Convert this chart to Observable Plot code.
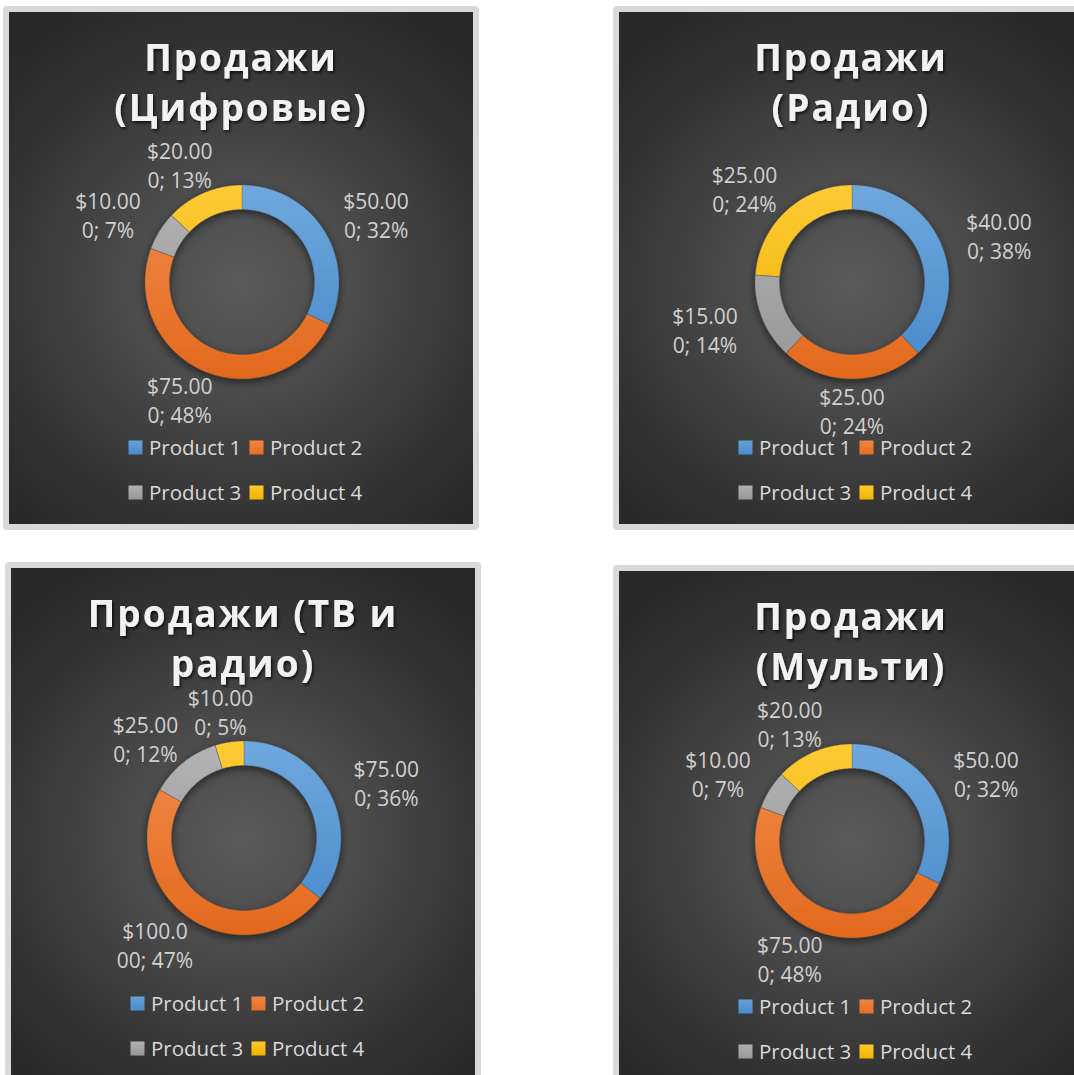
<!DOCTYPE html>
<html>
<head>
<meta charset="utf-8">
<script src="https://cdn.jsdelivr.net/npm/d3@7"></script>
<script src="https://cdn.jsdelivr.net/npm/@observablehq/plot@0.6"></script>
<style>
html, body { margin: 0; padding: 0; background: #ffffff; width: 1074px; height: 1075px; overflow: hidden; }
#root { position: relative; width: 1074px; height: 1075px; overflow: hidden; }
.panel { position: absolute; border: 6px solid #d9d9d9; border-radius: 4px; width: 464px; height: 512px; overflow: hidden; box-sizing: content-box; }
.panel svg { display: block; }
</style>
</head>
<body>
<div id="root"></div>
<script>
// ---------------- data ----------------
const products = ["Product 1", "Product 2", "Product 3", "Product 4"];

const titles = ["Продажи\n(Цифровые)", "Продажи\n(Радио)", "Продажи (ТВ и\nрадио)", "Продажи\n(Мульти)"];

const digitalValues = [50, 75, 10, 20];
const digitalPercents = [32, 48, 7, 13];

const radioValues = [40, 25, 15, 25];
const radioPercents = [38, 24, 14, 24];

const tvRadioValues = [75, 100, 25, 10];
const tvRadioPercents = [36, 47, 12, 5];

const multiValues = [50, 75, 10, 20];
const multiPercents = [32, 48, 7, 13];

// ---------------- styles ----------------
const lightColors = ["#6FA8DD", "#F28B4B", "#B3B3B3", "#FFCB35"];
const darkColors = ["#4688CA", "#E2691D", "#969696", "#EAB000"];
const swatchTop = ["#64A2DB", "#F2843F", "#B0B0B0", "#FFC826"];
const swatchBottom = ["#4B8BCC", "#E56E24", "#989898", "#F0B400"];

// ---------------- layout ----------------
const W = 464, H = 512;
const CX = 232.5, CY = 269.5;
const R_OUT = 97, R_IN = 72.5;
const LABEL_RX = 158, LABEL_RY = 128;
const panelBoxes = [
  {left: 3, top: 6},
  {left: 613, top: 6},
  {left: 5, top: 562},
  {left: 613, top: 565}
];
const panels = [
  {title: titles[0], values: digitalValues, percents: digitalPercents},
  {title: titles[1], values: radioValues, percents: radioPercents},
  {title: titles[2], values: tvRadioValues, percents: tvRadioPercents},
  {title: titles[3], values: multiValues, percents: multiPercents}
];

function makeSlices(values) {
  const total = d3.sum(values);
  let acc = 0;
  return values.map((v, i) => {
    const a0 = acc / total * 2 * Math.PI;
    acc += v;
    const a1 = acc / total * 2 * Math.PI;
    return {i, v, a0, a1, mid: (a0 + a1) / 2};
  });
}

function slicePoints(s) {
  const n = Math.max(2, Math.ceil((s.a1 - s.a0) / (Math.PI / 360)));
  const pts = [];
  for (let k = 0; k <= n; k++) {
    const a = s.a0 + (s.a1 - s.a0) * k / n;
    pts.push({x: R_OUT * Math.sin(a), y: -R_OUT * Math.cos(a)});
  }
  for (let k = n; k >= 0; k--) {
    const a = s.a0 + (s.a1 - s.a0) * k / n;
    pts.push({x: R_IN * Math.sin(a), y: -R_IN * Math.cos(a)});
  }
  return pts;
}

const root = document.getElementById("root");

panels.forEach((p, pi) => {
  const slices = makeSlices(p.values);

  const labels = slices.map(s => {
    const full = `$${s.v.toFixed(3)}; ${p.percents[s.i]}%`;
    const lines = [full.slice(0, 6), full.slice(6)];
    return {
      text: lines.join("\n"),
      x: Math.sin(s.mid) * LABEL_RX,
      y: -Math.cos(s.mid) * LABEL_RY
    };
  });

  const legend = products.map((name, i) => {
    const col = i % 2, row = Math.floor(i / 2);
    const x1 = -113 + col * 121;
    const yc = 166 + row * 45;
    return {name, i, x1, x2: x1 + 14, y1: yc - 7, y2: yc + 7, tx: x1 + 20, ty: yc};
  });

  const sliceMarks = slices.map(s =>
    Plot.line(slicePoints(s), {
      x: "x", y: "y",
      fill: `url(#grad-${pi}-${s.i})`,
      stroke: "#4a4a4a", strokeWidth: 0.6, strokeOpacity: 0.6,
      curve: "linear-closed"
    })
  );

  const svg = Plot.plot({
    width: W, height: H,
    margin: 0,
    x: {domain: [-CX, W - CX], range: [0, W], axis: null},
    y: {domain: [-CY, H - CY], range: [0, H], axis: null},
    color: {type: "identity"},
    style: {
      background: "radial-gradient(ellipse 72% 62% at 50% 53%, #5a5a5a 0%, #4b4b4b 35%, #333333 75%, #282828 100%)",
      fontFamily: "'Open Sans', sans-serif",
      overflow: "hidden"
    },
    marks: [
      ...sliceMarks,
      Plot.text([p.title], {
        x: () => -1, y: () => -202,
        text: d => d,
        fill: "#f2f2f2",
        fontSize: 37, fontWeight: "bold",
        lineHeight: 1.35,
        lineAnchor: "middle", textAnchor: "middle"
      }),
      Plot.text(labels, {
        x: "x", y: "y", text: "text",
        fill: "#d0d0d0",
        fontSize: 21, lineHeight: 1.38,
        lineAnchor: "middle", textAnchor: "middle"
      }),
      Plot.rect(legend, {
        x1: "x1", x2: "x2", y1: "y1", y2: "y2",
        fill: d => `url(#sw-${pi}-${d.i})`
      }),
      Plot.text(legend, {
        x: "tx", y: "ty", text: "name",
        fill: "#d9d9d9",
        fontSize: 20.5,
        lineAnchor: "middle", textAnchor: "start"
      })
    ]
  });

  // defs: gradients and filters
  const sel = d3.select(svg);
  const defs = sel.insert("defs", ":first-child");
  slices.forEach(s => {
    const g = defs.append("linearGradient")
      .attr("id", `grad-${pi}-${s.i}`)
      .attr("gradientUnits", "userSpaceOnUse")
      .attr("x1", 0).attr("x2", 0)
      .attr("y1", CY - R_OUT).attr("y2", CY + R_OUT);
    g.append("stop").attr("offset", "0%").attr("stop-color", lightColors[s.i]);
    g.append("stop").attr("offset", "100%").attr("stop-color", darkColors[s.i]);
  });
  products.forEach((_, i) => {
    const g = defs.append("linearGradient")
      .attr("id", `sw-${pi}-${i}`)
      .attr("x1", 0).attr("x2", 0).attr("y1", 0).attr("y2", 1);
    g.append("stop").attr("offset", "0%").attr("stop-color", swatchTop[i]);
    g.append("stop").attr("offset", "100%").attr("stop-color", swatchBottom[i]);
  });
  const ringF = defs.append("filter").attr("id", `ringShadow-${pi}`)
    .attr("x", "-30%").attr("y", "-30%").attr("width", "160%").attr("height", "160%");
  ringF.append("feDropShadow").attr("dx", 0).attr("dy", 3).attr("stdDeviation", 4)
    .attr("flood-color", "#000").attr("flood-opacity", 0.55);
  const titleF = defs.append("filter").attr("id", `titleShadow-${pi}`)
    .attr("x", "-10%").attr("y", "-20%").attr("width", "120%").attr("height", "140%");
  titleF.append("feDropShadow").attr("dx", 1.5).attr("dy", 2).attr("stdDeviation", 1.5)
    .attr("flood-color", "#000").attr("flood-opacity", 0.7);

  // wrap ring slices in one group with shadow
  const lineGroups = svg.querySelectorAll('g[aria-label="line"]');
  if (lineGroups.length) {
    const wrap = document.createElementNS("http://www.w3.org/2000/svg", "g");
    wrap.setAttribute("filter", `url(#ringShadow-${pi})`);
    lineGroups[0].parentNode.insertBefore(wrap, lineGroups[0]);
    lineGroups.forEach(g => wrap.appendChild(g));
  }
  const titleG = svg.querySelector('g[aria-label="text"][font-weight="bold"]');
  if (titleG) {
    titleG.setAttribute("filter", `url(#titleShadow-${pi})`);
    titleG.style.letterSpacing = "2px";
  }

  const div = document.createElement("div");
  div.className = "panel";
  div.style.left = panelBoxes[pi].left + "px";
  div.style.top = panelBoxes[pi].top + "px";
  div.appendChild(svg);
  root.appendChild(div);
});
</script>
</body>
</html>
